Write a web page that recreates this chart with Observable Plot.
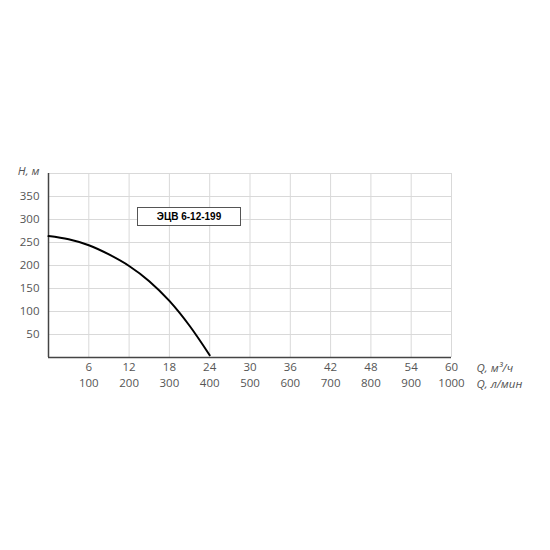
<!DOCTYPE html>
<html>
<head>
<meta charset="utf-8">
<script src="https://cdn.jsdelivr.net/npm/d3@7"></script>
<script src="https://cdn.jsdelivr.net/npm/@observablehq/plot@0.6"></script>
<style>
  html, body { margin: 0; padding: 0; background: #fff; }
  #wrap { position: relative; width: 550px; height: 550px; }
  #badge {
    position: absolute; left: 137px; top: 207px; width: 102px; height: 17px;
    border: 1px solid #555; background: #fff;
    font: bold 10px "Liberation Sans", Arial, sans-serif; color: #000;
    display: flex; align-items: center; justify-content: center;
  }
</style>
</head>
<body>
<div id="wrap"></div>
<script>
// Data
const flowM3h = [0, 3, 6, 9, 12, 15, 18, 21, 24];
const headM   = [264, 257, 244, 224, 199, 166, 123, 69, 5];
const xTicks = [6, 12, 18, 24, 30, 36, 42, 48, 54, 60];
const xTicksLpm = ["100", "200", "300", "400", "500", "600", "700", "800", "900", "1000"];
const yTicks = [50, 100, 150, 200, 250, 300, 350];
const yGrid = [50, 100, 150, 200, 250, 300, 350, 400];
const modelName = "ЭЦВ 6-12-199";

const curve = flowM3h.map((q, i) => ({q, h: headM[i]}));

const chart = Plot.plot({
  width: 550,
  height: 550,
  marginLeft: 48,
  marginRight: 99,
  marginTop: 173,
  marginBottom: 193,
  x: {domain: [0, 60]},
  y: {domain: [0, 400]},
  style: {fontFamily: "'Open Sans', sans-serif", fontSize: "11.5px", color: "#555", background: "#fff"},
  marks: [
    Plot.gridX(xTicks, {stroke: "#d9d9d9", strokeOpacity: 1, strokeWidth: 1}),
    Plot.gridY(yGrid, {stroke: "#d9d9d9", strokeOpacity: 1, strokeWidth: 1}),
    Plot.ruleX([0], {stroke: "#444", strokeWidth: 1.5}),
    Plot.ruleY([0], {stroke: "#444", strokeWidth: 1.5}),
    Plot.line(curve, {x: "q", y: "h", curve: "monotone-x", stroke: "#000", strokeWidth: 2}),
    Plot.axisY(yTicks, {tickSize: 0, tickPadding: 9, label: null}),
    Plot.axisX(xTicks, {tickSize: 0, tickPadding: 5, label: null}),
    Plot.axisX(xTicks, {tickSize: 0, tickPadding: 21, label: null, tickFormat: (d, i) => xTicksLpm[i]}),
    Plot.text(["H, м"], {frameAnchor: "top-left", dx: -9, dy: -2, textAnchor: "end", lineAnchor: "middle", fontStyle: "italic", fill: "#555"}),
    Plot.text(["Q, м³/ч"], {frameAnchor: "bottom-right", dx: 25, dy: 11, textAnchor: "start", lineAnchor: "middle", fontStyle: "italic", fill: "#555"}),
    Plot.text(["Q, л/мин"], {frameAnchor: "bottom-right", dx: 25, dy: 27, textAnchor: "start", lineAnchor: "middle", fontStyle: "italic", fill: "#555"})
  ]
});

const wrap = document.getElementById("wrap");
wrap.appendChild(chart);
const badge = document.createElement("div");
badge.id = "badge";
badge.textContent = modelName;
wrap.appendChild(badge);
</script>
</body>
</html>
